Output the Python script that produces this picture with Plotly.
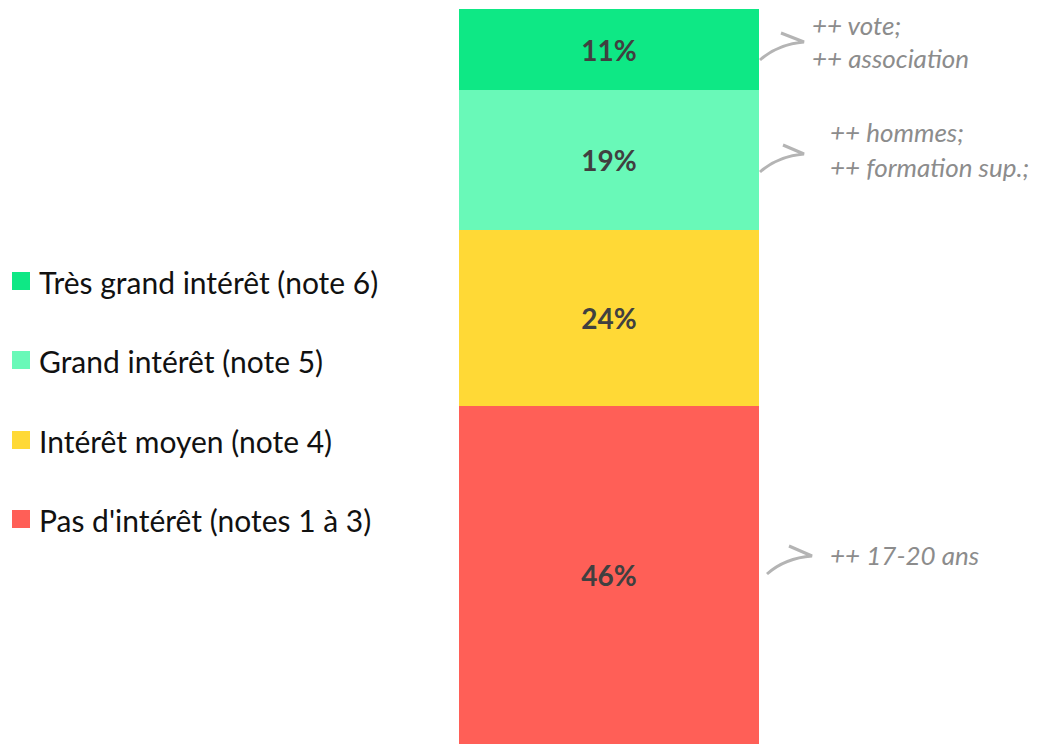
import plotly.graph_objects as go

# data (bottom to top of the stack)
categories = ["Pas d'intérêt (notes 1 à 3)", "Intérêt moyen (note 4)",
              "Grand intérêt (note 5)", "Très grand intérêt (note 6)"]
values = [46, 24, 19, 11]
colors = ["#ff5f57", "#ffd936", "#69f9b8", "#0ee885"]
legend_rows = [519, 440, 360, 281]  # page y of each legend entry

note_lines = [
    ("++ vote;", 812, 25),
    ("++ association", 812, 58),
    ("++ hommes;", 830, 132),
    ("++ formation sup.;", 830, 167),
    ("++ 17-20 ans", 830, 555),
]
# hand-drawn style arrows: tail, tip, upper arm start (page pixels)
arrows = [
    ((760, 60), (804, 42), (781, 33)),
    ((760, 172), (804, 154), (783, 145)),
    ((767, 574), (812, 556), (789, 546)),
]

W, H = 1050, 744
OFF = 8  # page body margin
L, R, T, B = 451, 299, 1, 8
PW, PH = W - L - R, H - T - B


def px(x):
    return (x - OFF - L) / PW


def py(y):
    return (H - B - (y - OFF)) / PH


font = "Lato, 'Source Sans Pro', sans-serif"

fig = go.Figure()
for name, v, c in zip(categories, values, colors):
    fig.add_trace(
        go.Bar(
            x=["total"],
            y=[v],
            name=name,
            marker=dict(color=c, line=dict(width=0)),
            texttemplate="%{y}%",
            textposition="inside",
            insidetextanchor="middle",
            textangle=0,
            textfont=dict(family=font, size=28, color="#404040", weight="bold"),
            width=1,
            hoverinfo="skip",
            showlegend=False,
        )
    )

# legend drawn by hand: square + label
for name, c, ry in zip(categories, colors, legend_rows):
    fig.add_shape(
        type="rect", xref="paper", yref="paper",
        x0=px(12), x1=px(30), y0=py(ry - 9), y1=py(ry + 9),
        fillcolor=c, line=dict(width=0),
    )
    fig.add_annotation(
        x=px(37), y=py(ry + 1), xref="paper", yref="paper",
        text=name, showarrow=False, xanchor="left", yanchor="middle",
        font=dict(family=font, size=30, color="#111111"),
    )

for text, x, y in note_lines:
    fig.add_annotation(
        x=px(x - 2), y=py(y), xref="paper", yref="paper",
        text=text, showarrow=False, xanchor="left", yanchor="middle", align="left",
        font=dict(family=font, size=26, color="#8c8c8c", style="italic"),
    )

for (tx, ty), (hx, hy), (ax, ay) in arrows:
    cx, cy = tx + 18, hy + 2
    fig.add_shape(
        type="path", xref="paper", yref="paper",
        path=f"M {px(tx)} {py(ty)} Q {px(cx)} {py(cy)} {px(hx)} {py(hy)} L {px(ax)} {py(ay)}",
        line=dict(color="#b4b4b4", width=3),
    )

fig.update_layout(
    width=W, height=H,
    barmode="stack",
    bargap=0,
    plot_bgcolor="white",
    paper_bgcolor="white",
    margin=dict(l=L, r=R, t=T, b=B),
    font=dict(family=font),
)
fig.update_xaxes(visible=False, range=[-0.5, 0.5])
fig.update_yaxes(visible=False, range=[0, 100])

fig.write_html("out.html")
